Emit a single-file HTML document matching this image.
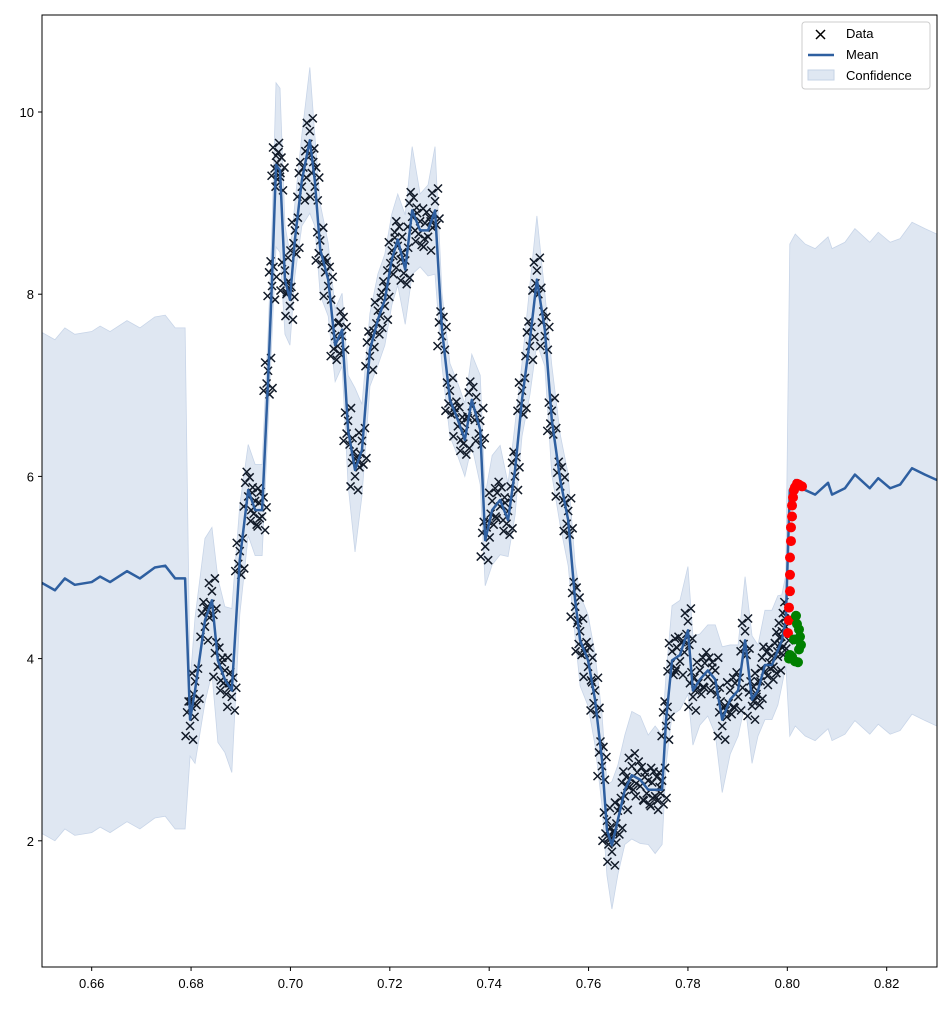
<!DOCTYPE html>
<html><head><meta charset="utf-8"><style>
body{margin:0;background:#fff;font-family:"Liberation Sans",sans-serif;}
svg text{font-family:"Liberation Sans",sans-serif;font-size:13px;fill:#000;}
</style></head><body>
<svg id="chart" width="952" height="1006">
<defs><clipPath id="clip"><rect x="42" y="15" width="895" height="952"/></clipPath></defs>
<g id="band" clip-path="url(#clip)"></g>
<g id="data" clip-path="url(#clip)"></g>
<g id="mean" clip-path="url(#clip)"></g>
<g id="dots" clip-path="url(#clip)"></g>
<rect x="42" y="15" width="895" height="952" fill="none" stroke="#000" stroke-width="1"/>
<g id="axes"></g>
<g>
<rect x="802" y="22" width="128" height="67" rx="3" fill="#fff" fill-opacity="0.8" stroke="#ccc"/>
<g><path d="M816,30 l9,9 M825,30 l-9,9" stroke="#000" stroke-width="1.5"/><text x="846" y="38">Data</text></g>
<g><line x1="808" y1="55" x2="834" y2="55" stroke="#2e5fa0" stroke-width="2.5"/><text x="846" y="59">Mean</text></g>
<g><rect x="808" y="70" width="26" height="10" fill="#dfe7f2" stroke="#c5d3e6"/><text x="846" y="80">Confidence</text></g>
</g>
</svg>
<script>
const meanX=[0.65,0.6526,0.6546,0.6566,0.66,0.6617,0.6637,0.6671,0.6697,0.6727,0.6748,0.6768,0.6788,0.6798,0.6808,0.6828,0.6842,0.6854,0.6868,0.6882,0.6898,0.6915,0.6929,0.6943,0.6955,0.6963,0.6971,0.6979,0.6989,0.6999,0.7009,0.7023,0.7039,0.7049,0.7060,0.7076,0.7090,0.7104,0.7116,0.7130,0.7144,0.7160,0.7176,0.7190,0.7204,0.7216,0.7231,0.7245,0.7261,0.7277,0.7291,0.7305,0.7321,0.7337,0.7351,0.7365,0.7382,0.7392,0.7406,0.7422,0.7438,0.7452,0.7466,0.7482,0.7496,0.7512,0.7526,0.7543,0.7559,0.7573,0.7583,0.7599,0.7613,0.7627,0.7637,0.7647,0.7659,0.7673,0.7687,0.7704,0.7720,0.7734,0.7748,0.7756,0.7768,0.7784,0.7800,0.7810,0.7824,0.7840,0.7855,0.7869,0.7885,0.7901,0.7915,0.7929,0.7941,0.7955,0.7969,0.7981,0.7989,0.7997,0.8005,0.8016,0.8036,0.8056,0.8082,0.8090,0.8116,0.8136,0.8166,0.8183,0.8207,0.8227,0.8251,0.8277,0.8301];
const meanY=[4.83,4.75,4.88,4.81,4.84,4.9,4.84,4.96,4.88,5.0,5.02,4.88,4.88,3.33,3.65,4.42,4.64,3.98,3.77,3.65,5.08,5.85,5.63,5.63,7.06,8.16,9.42,9.36,8.16,7.94,8.6,9.25,9.69,9.25,8.49,8.16,7.44,7.61,6.51,6.07,6.29,7.39,7.72,7.94,8.38,8.6,8.27,8.92,8.7,8.7,8.92,7.61,6.84,6.62,6.4,6.84,6.51,5.3,5.63,5.74,5.52,6.07,6.84,7.5,8.16,7.61,6.62,5.96,5.52,4.64,4.2,3.98,3.55,2.89,2.12,1.95,2.23,2.56,2.72,2.67,2.56,2.56,2.56,3.33,3.98,4.04,4.31,3.65,3.77,3.87,3.77,3.33,3.55,3.65,4.2,3.55,3.65,3.93,3.93,4.09,4.2,4.42,5.85,5.96,5.85,5.8,5.93,5.8,5.87,6.02,5.87,5.98,5.87,5.91,6.09,6.02,5.96];
const stdY=[2.75,2.75,2.75,2.75,2.75,2.75,2.75,2.75,2.75,2.75,2.75,2.75,2.75,0.4,0.8,0.9,0.8,0.9,0.8,0.9,0.6,0.5,0.5,0.5,0.5,0.6,0.9,0.9,0.6,0.5,0.4,0.5,0.8,0.5,0.5,0.4,0.4,0.4,0.6,0.9,0.5,0.4,0.5,0.5,0.5,0.5,0.6,0.7,0.4,0.5,0.7,0.4,0.4,0.4,0.4,0.5,0.6,0.5,0.6,0.6,0.4,0.5,0.4,0.6,0.7,0.4,0.6,0.5,0.5,0.4,0.5,0.5,0.5,0.5,0.5,0.7,0.6,0.6,0.7,0.7,0.6,0.7,0.6,0.5,0.6,0.6,0.7,0.6,0.5,0.5,0.6,0.8,0.6,0.5,0.7,0.7,0.5,0.6,0.6,0.6,0.5,0.5,2.7,2.7,2.7,2.7,2.7,2.7,2.7,2.7,2.7,2.7,2.7,2.7,2.7,2.7,2.7];
const dataOffsets=[-0.18,0.08,0.2,-0.07,0.14,-0.22,0.03,-0.12,0.19,-0.04,0.1,-0.16,0.24,-0.09];
const redX=[0.80014,0.80034,0.80034,0.80054,0.80054,0.80054,0.80074,0.80074,0.80095,0.80095,0.80115,0.80135,0.80155,0.80195,0.80235,0.80296];
const redY=[4.28,4.42,4.56,4.74,4.92,5.11,5.29,5.44,5.56,5.68,5.77,5.85,5.88,5.92,5.91,5.89];
const greenX=[0.80034,0.80095,0.80155,0.80215,0.80175,0.80195,0.80235,0.80255,0.80275,0.80235,0.80054,0.80135];
const greenY=[4.0,4.02,3.97,3.96,4.47,4.38,4.32,4.24,4.15,4.1,4.04,4.21];
const xTicks=[0.66,0.68,0.70,0.72,0.74,0.76,0.78,0.80,0.82];
const yTicks=[2,4,6,8,10];
const NS="http://www.w3.org/2000/svg";
const sx=v=>42+(v-0.65)*4968.75;
const sy=v=>1023-v*91.1;
function mk(tag,attrs,parent){const e=document.createElementNS(NS,tag);for(const k in attrs)e.setAttribute(k,attrs[k]);parent.appendChild(e);return e;}
let up=meanX.map((x,i)=>sx(x)+","+sy(meanY[i]+stdY[i]));
let lo=meanX.map((x,i)=>sx(x)+","+sy(meanY[i]-stdY[i])).reverse();
const band=mk("polygon",{points:up.concat(lo).join(" "),fill:"#dfe7f2",stroke:"#c8d5e8","stroke-width":"0.8"},document.getElementById("band"));


const dg=document.getElementById("data");
let k=0;
meanX.forEach((x,i)=>{
  if(x<0.6797||x>0.7998)return;
  for(let j=0;j<7;j++){
    const xi=x+(j-3)*0.0003;
    const yi=meanY[i]+dataOffsets[(k++)%dataOffsets.length];
    const px=sx(xi),py=sy(yi);
    const c=mk("path",{d:`M${px-4},${py-4}L${px+4},${py+4}M${px+4},${py-4}L${px-4},${py+4}`,stroke:"#111a28","stroke-width":"1.5"},dg);
    
    
  }
});
const ml=mk("polyline",{points:meanX.map((x,i)=>sx(x)+","+sy(meanY[i])).join(" "),fill:"none",stroke:"#2e5fa0","stroke-width":"2.5","stroke-linejoin":"round"},document.getElementById("mean"));


const dd=document.getElementById("dots");
redX.forEach((x,i)=>{const c=mk("circle",{cx:sx(x),cy:sy(redY[i]),r:5,fill:"red"},dd);

});
greenX.forEach((x,i)=>{const c=mk("circle",{cx:sx(x),cy:sy(greenY[i]),r:5,fill:"green"},dd);

});
const ax=document.getElementById("axes");
xTicks.forEach(t=>{const g=mk("g",{},ax);


mk("line",{x1:sx(t),x2:sx(t),y1:967,y2:971,stroke:"#000"},g);
mk("text",{x:sx(t),y:988,"text-anchor":"middle"},g).textContent=t.toFixed(2);});
yTicks.forEach(t=>{const g=mk("g",{},ax);


mk("line",{x1:38,x2:42,y1:sy(t),y2:sy(t),stroke:"#000"},g);
mk("text",{x:34,y:sy(t)+5,"text-anchor":"end"},g).textContent=t;});
</script>
</body></html>
